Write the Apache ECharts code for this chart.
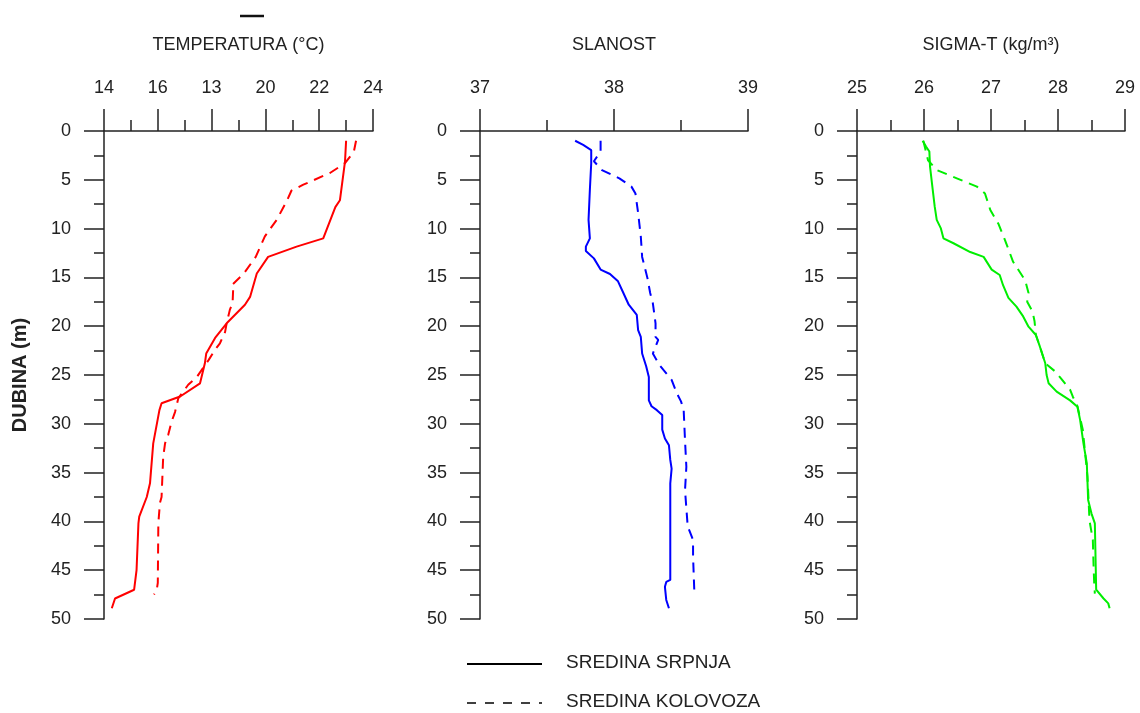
<!DOCTYPE html>
<html><head><meta charset="utf-8">
<script src="https://cdn.jsdelivr.net/npm/echarts@6/dist/echarts.min.js"></script>
<style>html,body{margin:0;padding:0;background:#fff}#c{width:1140px;height:713px}</style>
</head><body><div id="c"></div>
<script>
// ---- data: [value, depth(m)] ----
const tempJuly = [[23.0,1.0],[22.96,3.1],[22.77,7.1],[22.6,7.8],[22.15,11.0],[21.16,11.85],[20.1,12.9],[19.68,14.6],[19.43,17.0],[19.24,17.8],[18.56,19.7],[18.13,21.2],[17.8,22.8],[17.75,23.8],[17.57,25.85],[16.83,27.2],[16.14,27.9],[16.06,28.6],[15.83,32.0],[15.71,36.1],[15.59,37.5],[15.31,39.5],[15.28,40.2],[15.21,45.0],[15.12,47.0],[14.41,47.9],[14.29,48.9]];
const tempAug = [[23.37,1.0],[23.29,2.1],[22.96,3.3],[22.4,4.3],[21.41,5.5],[20.97,6.1],[20.79,7.2],[20.42,9.1],[19.98,10.8],[19.64,12.9],[19.2,14.6],[18.75,15.8],[18.8,16.3],[18.78,17.65],[18.68,18.3],[18.56,19.7],[18.5,20.6],[18.31,21.75],[18.13,22.4],[17.88,23.5],[17.45,25.2],[17.13,26.0],[16.76,27.4],[16.64,28.8],[16.51,29.8],[16.39,31.1],[16.27,32.0],[16.2,33.4],[16.14,37.5],[16.08,38.1],[16.02,40.2],[16.0,46.3],[15.96,47.0],[15.86,47.5]];
const salJuly = [[37.71,1.0],[37.77,1.43],[37.83,1.95],[37.83,3.3],[37.82,6.0],[37.81,9.1],[37.82,11.0],[37.79,11.85],[37.79,12.3],[37.85,13.05],[37.9,14.2],[37.97,14.65],[38.03,15.4],[38.07,16.6],[38.11,17.8],[38.17,18.85],[38.18,20.4],[38.2,21.1],[38.21,22.8],[38.24,24.1],[38.26,25.2],[38.26,27.6],[38.28,28.2],[38.32,28.6],[38.36,29.1],[38.36,30.6],[38.38,31.5],[38.41,32.2],[38.42,33.7],[38.43,34.6],[38.42,36.1],[38.42,46.0],[38.39,46.2],[38.38,46.7],[38.39,48.05],[38.41,48.9]];
const salAug = [[37.9,1.0],[37.9,2.1],[37.85,3.1],[37.91,4.0],[38.04,4.85],[38.13,5.7],[38.16,6.4],[38.18,8.4],[38.2,10.8],[38.21,12.9],[38.25,15.1],[38.27,16.6],[38.29,17.65],[38.31,19.7],[38.31,21.1],[38.33,21.4],[38.29,22.8],[38.34,24.0],[38.43,25.5],[38.47,26.9],[38.5,27.7],[38.52,28.6],[38.53,31.7],[38.54,34.4],[38.53,36.8],[38.55,40.5],[38.59,41.9],[38.59,43.6],[38.6,47.4]];
const sigJuly = [[25.98,1.0],[26.03,1.6],[26.08,2.1],[26.09,3.65],[26.13,6.0],[26.16,7.75],[26.19,9.1],[26.25,9.95],[26.29,11.0],[26.44,11.5],[26.69,12.4],[26.89,12.9],[27.01,14.2],[27.13,14.75],[27.18,15.8],[27.26,17.1],[27.38,18.0],[27.48,19.0],[27.56,20.05],[27.67,20.9],[27.73,22.1],[27.81,23.8],[27.83,25.0],[27.86,25.85],[27.98,26.7],[28.18,27.6],[28.29,28.25],[28.33,29.6],[28.38,32.0],[28.43,34.05],[28.45,37.8],[28.5,39.2],[28.55,40.2],[28.57,47.0],[28.68,47.9],[28.75,48.4],[28.77,48.9]];
const sigAug = [[25.99,1.0],[26.06,3.0],[26.19,4.0],[26.49,4.85],[26.79,5.7],[26.91,6.4],[26.99,8.1],[27.11,9.5],[27.21,11.2],[27.33,13.4],[27.51,15.3],[27.56,16.6],[27.54,17.5],[27.62,18.5],[27.65,19.5],[27.67,20.9],[27.73,22.1],[27.81,23.8],[27.96,24.65],[28.05,25.4],[28.18,26.5],[28.22,27.2],[28.29,28.2],[28.37,30.6],[28.44,35.4],[28.47,39.9],[28.52,41.9],[28.53,44.3],[28.54,46.3],[28.55,47.4]];

const tempTickLabels = ['14','16','13','20','22','24'];
const panelTitles = ['TEMPERATURA (\u00B0C)', 'SLANOST', 'SIGMA-T (kg/m\u00B3)'];
const depthTitle = 'DUBINA (m)';
const legendNames = ['SREDINA SRPNJA', 'SREDINA KOLOVOZA'];

const FONT = "'Liberation Sans', Arial, sans-serif";
const AX = '#222';
const grids = [
  {left:104, width:269, top:131, height:488},
  {left:480, width:268, top:131, height:488},
  {left:857, width:268, top:131, height:488}
];
const xRanges = [[14,24,2],[37,39,1],[25,29,1]];
const xAxes = xRanges.map((r,i)=>({
  type:'value', gridIndex:i, position:'top', min:r[0], max:r[1], interval:r[2],
  name: panelTitles[i], nameLocation:'middle', nameGap:86,
  nameTextStyle:{fontFamily:FONT, fontSize:18, color:AX, verticalAlign:'middle'},
  axisLine:{show:true, onZero:false, lineStyle:{color:AX, width:1.5}},
  axisTick:{show:true, length:22, lineStyle:{color:AX, width:1.5}},
  minorTick:{show:true, splitNumber:2, length:11, lineStyle:{color:AX, width:1.5}},
  splitLine:{show:false}, minorSplitLine:{show:false},
  axisLabel:{margin:34, fontFamily:FONT, fontSize:18, color:AX,
    formatter: i===0 ? (v)=>tempTickLabels[Math.round((v-14)/2)] : (v)=>String(v)}
}));
const yAxes = grids.map((g,i)=>({
  type:'value', gridIndex:i, inverse:true, min:0, max:50, interval:5,
  name: i===0 ? depthTitle : '', nameLocation:'middle', nameGap:74, nameRotate:90,
  nameTextStyle:{fontFamily:FONT, fontSize:20, fontWeight:'bold', color:AX},
  axisLine:{show:true, onZero:false, lineStyle:{color:AX, width:1.5}},
  axisTick:{show:true, length:20, lineStyle:{color:AX, width:1.5}},
  minorTick:{show:true, splitNumber:2, length:10, lineStyle:{color:AX, width:1.5}},
  splitLine:{show:false}, minorSplitLine:{show:false},
  axisLabel:{margin:33, fontFamily:FONT, fontSize:18, color:AX}
}));
function ser(data, i, color, dashed){
  return {type:'line', xAxisIndex:i, yAxisIndex:i, data:data, showSymbol:false, symbol:'none',
    silent:true, animation:false, clip:false,
    lineStyle:{color:color, width:2, type: dashed ? [10,7] : 'solid'}};
}
const chart = echarts.init(document.getElementById('c'), null, {renderer:'canvas'});
chart.setOption({
  backgroundColor:'#fff', animation:false,
  grid: grids,
  xAxis: xAxes, yAxis: yAxes,
  series:[
    ser(tempJuly,0,'#ff0000',false), ser(tempAug,0,'#ff0000',true),
    ser(salJuly,1,'#0000ff',false), ser(salAug,1,'#0000ff',true),
    ser(sigJuly,2,'#00ee00',false), ser(sigAug,2,'#00ee00',true)
  ],
  graphic:[
    {type:'line', shape:{x1:240,y1:16,x2:264,y2:16}, style:{stroke:'#111', lineWidth:2.5}},
    {type:'line', shape:{x1:467,y1:664,x2:542,y2:664}, style:{stroke:'#000', lineWidth:2}},
    {type:'line', shape:{x1:467,y1:703,x2:542,y2:703}, style:{stroke:'#000', lineWidth:1.5, lineDash:[9,9]}},
    {type:'text', left:566, top:653, style:{text:legendNames[0], fontFamily:FONT, fontSize:19, fill:AX}},
    {type:'text', left:566, top:692, style:{text:legendNames[1], fontFamily:FONT, fontSize:19, fill:AX}}
  ]
});
</script></body></html>
